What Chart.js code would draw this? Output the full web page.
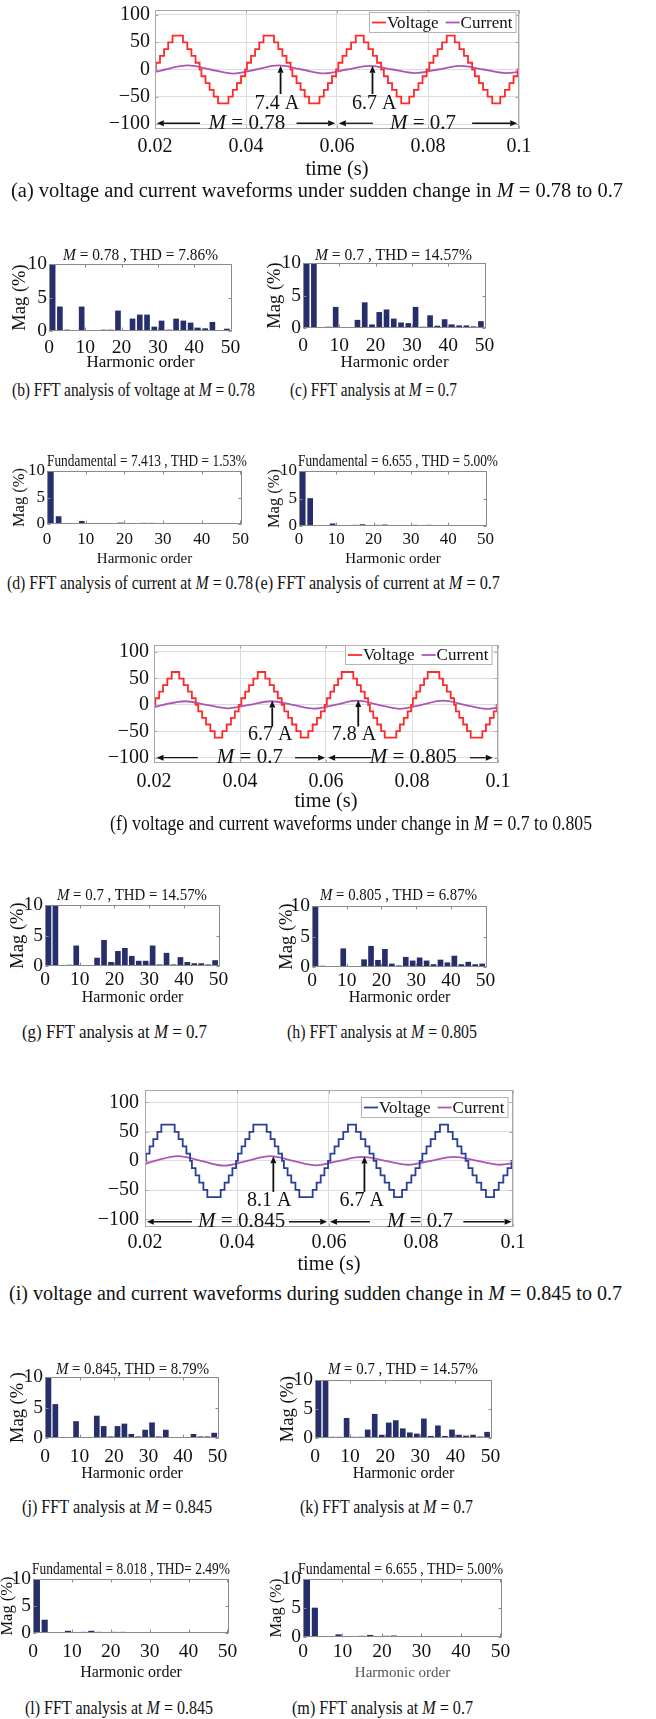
<!DOCTYPE html>
<html><head><meta charset="utf-8">
<script src="https://cdn.jsdelivr.net/npm/chart.js@4.4.1/dist/chart.umd.min.js"></script>
<style>
html,body{margin:0;padding:0;background:#fff;}
body{position:relative;width:656px;height:1719px;overflow:hidden;font-family:"Liberation Serif","Times New Roman",serif;color:#111;}
canvas{position:absolute;}
.t{position:absolute;white-space:nowrap;line-height:1;transform-origin:0 50%;}
</style></head><body>
<script>
// ================= DATA =================
const HARMONIC_ORDERS = [1,3,5,7,9,11,13,15,17,19,21,23,25,27,29,31,33,35,37,39,41,43,45,47,49];
const MAG_B = [100,3.6,0.15,0,3.6,0,0,0.15,0.15,3.0,0,1.8,2.4,2.4,0.6,1.5,0.15,1.8,1.5,1.2,0.45,0.35,1.3,0,0.3];
const MAG_C = [100,100,0,0.15,3.2,0,0,1.2,3.9,0.5,2.4,2.8,1.4,0.8,0.7,3.2,0.15,1.9,0.3,1.3,0.5,0.35,0.35,0.2,1.0];
const MAG_D = [100,1.4,0.1,0.1,0.5,0.1,0.1,0.1,0.1,0.2,0.1,0.1,0.15,0.15,0.1,0.1,0.1,0.1,0.1,0.1,0.1,0.1,0.1,0.1,0.1];
const MAG_E = [100,5.0,0.1,0.1,0.4,0.1,0.1,0.15,0.25,0.1,0.15,0.2,0.1,0.1,0.1,0.15,0.1,0.15,0.1,0.1,0.1,0.1,0.1,0.1,0.1];
const MAG_G = [100,100,0,0.15,3.3,0,0,1.3,4.2,0.6,2.4,2.9,1.6,0.8,0.8,3.3,0.2,2.1,0.2,1.4,0.6,0.4,0.4,0.2,0.9];
const MAG_H = [100,0.15,0,0,3.0,0,0,1.2,3.4,1.1,2.9,0.5,0.2,1.6,1.0,1.5,1.0,0.4,1.15,0.7,1.8,0.4,0.8,0.4,0.5];
const MAG_J = [100,5.5,0,0,2.7,0,0,3.6,1.9,0.2,1.9,2.3,0.6,0.2,1.3,2.5,0.2,1.3,0,0,0,0.6,0.2,0.2,0.8];
const MAG_K = [100,100,0.15,0.15,3.4,0.15,0.15,1.4,4.1,0.5,2.6,3.0,1.6,0.9,0.7,3.3,0.3,2.1,0.3,1.4,0.5,0.35,0.5,0.2,1.0];
const MAG_L = [100,2.4,0.1,0.1,0.35,0.1,0.15,0.35,0.15,0.1,0.15,0.15,0.1,0.1,0.1,0.12,0.1,0.1,0.1,0.1,0.1,0.1,0.1,0.1,0.1];
const MAG_M = [100,5.0,0.1,0.1,0.4,0.1,0.1,0.15,0.3,0.1,0.15,0.2,0.1,0.1,0.1,0.12,0.1,0.12,0.1,0.1,0.1,0.1,0.1,0.1,0.1];

// staircase voltage: start of each fundamental period (s), step height (V),
// quarter-wave switching instants (s after each zero crossing) for each M
const PERIOD_STARTS = [0.02, 0.04, 0.06, 0.08];
const HALF_PERIOD = 0.01;
const LEVEL_STEP = 12.4;
const SWITCH_M078  = [0.0002, 0.0011, 0.0020, 0.0029, 0.00385];
const SWITCH_M070  = [0.0003, 0.0012, 0.0021, 0.0031, 0.00412];
const SWITCH_M0805 = [0.0002, 0.0010, 0.0019, 0.0028, 0.00365];
const SWITCH_M0845 = [0.0002, 0.0010, 0.0018, 0.0027, 0.00355];

// load current: sample instants (zero crossings / peaks) and values (A)
const CURRENT_TIMES = [0.02,0.0222,0.0272,0.0322,0.0372,0.0422,0.0472,0.0522,0.0572,0.0622,0.0672,0.0722,0.0772,0.0822,0.0872,0.0922,0.0972,0.1];
const CURRENT_A = [-4.9,0,7.4,0,-7.4,0,7.4,0,-7.1,0,6.7,0,-6.7,0,6.7,0,-6.7,-4.4];
const CURRENT_F = [-4.4,0,6.7,0,-6.7,0,6.7,0,-7.1,0,7.8,0,-7.8,0,7.8,0,-7.8,-5.1];
const CURRENT_I = [-5.3,0,8.1,0,-8.1,0,8.1,0,-7.6,0,6.7,0,-6.7,0,6.7,0,-6.7,-4.4];

// annotations in data units: arrows [x0,y0 -> x1,y1], notes [x,y,text], M labels [x,y,value]
const ARROWS_A = [[0.0476,-45,0.0476,7],[0.0678,-45,0.0678,7],[0.0299,-98.5,0.0204,-98.5],[0.0511,-98.5,0.0596,-98.5],[0.0679,-98.5,0.0604,-98.5],[0.0897,-98.5,0.0996,-98.5]];
const NOTES_A = [[0.0468,-62,'7.4 A'],[0.0682,-62,'6.7 A']];
const MLABELS_A = [[0.0402,-98.5,'0.78'],[0.0789,-98.5,'0.7']];
const ARROWS_F = [[0.0475,-41,0.0475,8],[0.0675,-41,0.0675,9],[0.0302,-100,0.0206,-100],[0.0528,-100,0.0598,-100],[0.0706,-100,0.0605,-100],[0.0935,-100,0.0988,-100]];
const NOTES_F = [[0.0470,-57,'6.7 A'],[0.0665,-57,'7.8 A']];
const MLABELS_F = [[0.0423,-100,'0.7'],[0.0803,-100,'0.805']];
const ARROWS_I = [[0.0479,-53,0.0479,8],[0.0677,-53,0.0677,7.5],[0.0302,-104,0.0204,-104],[0.0513,-104,0.0596,-104],[0.0689,-104,0.0602,-104],[0.0892,-104,0.0997,-104]];
const NOTES_I = [[0.0470,-68,'8.1 A'],[0.0671,-68,'6.7 A']];
const MLABELS_I = [[0.0410,-104,'0.845'],[0.0798,-104,'0.7']];

// ================= STYLE =================
const RED = '#ff2a2a', PURPLE = '#ad55b6', BLUE = '#2b3e98', NAVY = '#272e6c';
const GRID = '#dcdcdc', BOX_W = '#a8a8a8', BOX_F = '#8a8a8a', INK = '#111';
const FONT = '"Liberation Serif","Times New Roman",serif';
Chart.defaults.font.family = FONT;
Chart.defaults.color = INK;

function buildStaircase(switchSets) {
  const pts = [{x: PERIOD_STARTS[0], y: 0}];
  switchSets.forEach((ang, p) => {
    const t0 = PERIOD_STARTS[p], n = ang.length;
    for (let k = 0; k < n; k++) pts.push({x: t0 + ang[k], y: (k + 1) * LEVEL_STEP});
    for (let k = n - 1; k >= 0; k--) pts.push({x: t0 + HALF_PERIOD - ang[k], y: k * LEVEL_STEP});
    for (let k = 0; k < n; k++) pts.push({x: t0 + HALF_PERIOD + ang[k], y: -(k + 1) * LEVEL_STEP});
    for (let k = n - 1; k >= 0; k--) pts.push({x: t0 + 2 * HALF_PERIOD - ang[k], y: -k * LEVEL_STEP});
  });
  pts.push({x: 0.1, y: 0});
  return pts;
}
const pairs = (xs, ys) => xs.map((x, i) => ({x, y: ys[i]}));

function drawArrow(ctx, x0, y0, x1, y1, lw) {
  const dx = x1 - x0, dy = y1 - y0, len = Math.hypot(dx, dy), ux = dx / len, uy = dy / len;
  const hl = 7, hw = 3;
  ctx.strokeStyle = INK; ctx.fillStyle = INK; ctx.lineWidth = lw;
  ctx.beginPath(); ctx.moveTo(x0, y0); ctx.lineTo(x1 - ux * hl, y1 - uy * hl); ctx.stroke();
  ctx.beginPath(); ctx.moveTo(x1, y1);
  ctx.lineTo(x1 - ux * hl - uy * hw, y1 - uy * hl + ux * hw);
  ctx.lineTo(x1 - ux * hl + uy * hw, y1 - uy * hl - ux * hw);
  ctx.closePath(); ctx.fill();
}
function drawParts(ctx, parts, cx, cy, size) {
  const fonts = parts.map(p => (p[1] ? 'italic ' : '') + size + 'px ' + FONT);
  const ws = parts.map((p, i) => { ctx.font = fonts[i]; return ctx.measureText(p[0]).width; });
  let x = cx - ws.reduce((a, b) => a + b, 0) / 2;
  ctx.textBaseline = 'middle'; ctx.textAlign = 'left'; ctx.fillStyle = INK;
  parts.forEach((p, i) => { ctx.font = fonts[i]; ctx.fillText(p[0], x, cy); x += ws[i]; });
}

const decor = {
  id: 'decor',
  afterDatasetsDraw(chart, args, o) {
    const ctx = chart.ctx, a = chart.chartArea, xs = chart.scales.x, ys = chart.scales.y;
    ctx.save();
    const l = Math.round(a.left) + 0.5, r = Math.round(a.right) - 0.5, t = Math.round(a.top) + 0.5, b = Math.round(a.bottom) - 0.5;
    ctx.strokeStyle = o.boxColor; ctx.lineWidth = 1;
    if (o.tick) {
      ctx.beginPath();
      xs.ticks.forEach(tk => { const p = Math.round(xs.getPixelForValue(tk.value)) + 0.5; ctx.moveTo(p, b); ctx.lineTo(p, b - o.tick); ctx.moveTo(p, t); ctx.lineTo(p, t + o.tick); });
      ys.ticks.forEach(tk => { const p = Math.round(ys.getPixelForValue(tk.value)) + 0.5; ctx.moveTo(l, p); ctx.lineTo(l + o.tick, p); ctx.moveTo(r, p); ctx.lineTo(r - o.tick, p); });
      ctx.stroke();
    }
    ctx.strokeRect(l, t, r - l, b - t);
    (o.arrows || []).forEach(([x0, y0, x1, y1]) => drawArrow(ctx, xs.getPixelForValue(x0), ys.getPixelForValue(y0), xs.getPixelForValue(x1), ys.getPixelForValue(y1), x0 === x1 ? 1.8 : 1.3));
    (o.notes || []).forEach(([x, y, s]) => drawParts(ctx, [[s, 0]], xs.getPixelForValue(x), ys.getPixelForValue(y), 20));
    (o.mlabels || []).forEach(([x, y, s]) => drawParts(ctx, [['M', 1], [' = ' + s, 0]], xs.getPixelForValue(x), ys.getPixelForValue(y), 21));
    if (o.legend) {
      const L = o.legend, items = chart.data.datasets;
      ctx.font = L.size + 'px ' + FONT;
      const tw = items.map(d => ctx.measureText(d.label).width);
      let w = L.padL + L.padR;
      items.forEach((d, i) => { w += L.sample + L.gap + tw[i] + (i < items.length - 1 ? L.between : 0); });
      const bx = Math.round(a.right - L.dx - w), by = Math.round(a.top + L.dy);
      ctx.fillStyle = '#fff'; ctx.fillRect(bx, by, w, L.h);
      ctx.strokeStyle = '#b4b4b4'; ctx.lineWidth = 1; ctx.strokeRect(bx + 0.5, by + 0.5, w - 1, L.h - 1);
      let x = bx + L.padL; const cy = by + L.h / 2;
      items.forEach((d, i) => {
        ctx.strokeStyle = d.borderColor; ctx.lineWidth = 1.8;
        ctx.beginPath(); ctx.moveTo(x, cy); ctx.lineTo(x + L.sample, cy); ctx.stroke();
        x += L.sample + L.gap;
        ctx.fillStyle = INK; ctx.textBaseline = 'middle'; ctx.textAlign = 'left';
        ctx.fillText(d.label, x, cy + 1);
        x += tw[i] + L.between;
      });
    }
    ctx.restore();
  }
};
Chart.register(decor);

function makeCanvas(left, top, w, h) {
  const c = document.createElement('canvas');
  c.width = w; c.height = h;
  c.style.left = left + 'px'; c.style.top = top + 'px';
  c.style.width = w + 'px'; c.style.height = h + 'px';
  document.body.appendChild(c);
  return c;
}
const fmtT = v => String(Math.round(v * 1000) / 1000);
const fmtV = v => (v < 0 ? '\u2212' + Math.abs(v) : String(v));

function wavePanel(g, voltage, current, voltColor, arrows, notes, mlabels) {
  const cx = Math.round(g.L - g.lw), cy = Math.round(g.T - g.pt);
  const lw = g.L - cx, pt = g.T - cy;
  const bh = Math.round(g.xty + 0.6 * g.fx - g.B);
  const W = Math.round(g.R - cx + g.pr), H = Math.round(g.B - cy + bh);
  new Chart(makeCanvas(cx, cy, W, H), {
    type: 'line',
    data: {datasets: [
      {label: 'Voltage', data: voltage, borderColor: voltColor, backgroundColor: voltColor, borderWidth: 1.8, pointRadius: 0, stepped: true, fill: false},
      {label: 'Current', data: current, borderColor: PURPLE, backgroundColor: PURPLE, borderWidth: 1.8, pointRadius: 0, cubicInterpolationMode: 'monotone', fill: false}
    ]},
    options: {
      responsive: false, animation: false, events: [],
      layout: {padding: {top: pt, right: g.pr, bottom: 0, left: 0}},
      plugins: {legend: {display: false}, tooltip: {enabled: false},
        decor: {boxColor: BOX_W, tick: 3, arrows, notes, mlabels,
          legend: {size: 17, padL: 3, padR: 4, sample: 14, gap: 1, between: 7, h: g.lh, dx: g.ldx, dy: g.ldy}}},
      scales: {
        x: {type: 'linear', min: 0.02, max: 0.1,
          ticks: {stepSize: 0.02, padding: g.xtk - g.B - 0.6 * g.ft, font: {size: g.ft}, color: INK, callback: fmtT, maxRotation: 0, autoSkip: false},
          grid: {color: GRID, drawTicks: false}, border: {display: false},
          title: {display: true, text: 'time (s)', font: {size: g.fx}, padding: 0, color: INK},
          afterFit: s => { s.height = bh; s.paddingLeft = 0; s.paddingRight = 0; }},
        y: {min: g.ymin, max: g.ymax,
          ticks: {stepSize: 50, includeBounds: false, padding: g.ytp, font: {size: g.ft}, color: INK, callback: fmtV},
          grid: {color: GRID, drawTicks: false}, border: {display: false},
          afterFit: s => { s.width = lw; s.paddingTop = 0; s.paddingBottom = 0; }}
      }
    }
  });
}

function fftPanel(g, mags, yTitle) {
  const cx = Math.round(g.yt - 0.6 * g.fy), cy = Math.round(g.T - 12);
  const lw = g.L - cx, pt = g.T - cy;
  const bh = Math.round(g.xty + 0.6 * g.fx - g.B);
  const pr = 14;
  const W = Math.round(g.R - cx + pr), H = Math.round(g.B - cy + bh);
  new Chart(makeCanvas(cx, cy, W, H), {
    type: 'bar',
    data: {datasets: [{label: 'Mag', data: pairs(HARMONIC_ORDERS, mags), backgroundColor: NAVY, borderWidth: 0, barThickness: g.bt || 5, clip: 0}]},
    options: {
      responsive: false, animation: false, events: [],
      layout: {padding: {top: pt, right: pr, bottom: 0, left: 0}},
      plugins: {legend: {display: false}, tooltip: {enabled: false}, decor: {boxColor: BOX_F, tick: 3}},
      scales: {
        x: {type: 'linear', min: 0, max: 50.4, offset: false,
          ticks: {stepSize: 10, includeBounds: false, padding: g.xtk - g.B - 0.6 * g.ft, font: {size: g.ft}, color: INK, maxRotation: 0, autoSkip: false},
          grid: {display: false, drawTicks: false, offset: false}, border: {display: false},
          title: {display: true, text: 'Harmonic order', font: {size: g.fx}, padding: 0, color: g.xc || INK},
          afterFit: s => { s.height = bh; s.paddingLeft = 0; s.paddingRight = 0; }},
        y: {min: 0, max: 10,
          ticks: {stepSize: 5, padding: 2, font: {size: g.ft}, color: INK},
          grid: {display: false, drawTicks: false}, border: {display: false},
          title: {display: true, text: yTitle || 'Mag (%)', font: {size: g.fy}, padding: 0, color: INK},
          afterFit: s => { s.width = lw; s.paddingTop = 0; s.paddingBottom = 0; }}
      }
    }
  });
}

function txt(html, o) {
  const d = document.createElement('div');
  d.className = 't'; d.innerHTML = html;
  d.style.fontSize = o.size + 'px'; d.style.color = o.color || INK;
  document.body.appendChild(d);
  const nat = d.getBoundingClientRect().width;
  const s = o.width ? o.width / nat : 1;
  const left = o.align === 'left' ? o.x : o.x - nat * s / 2;
  d.style.left = left + 'px';
  d.style.top = (o.y - o.size / 2) + 'px';
  d.style.transform = 'scaleX(' + s + ')';
}

// ================= PANELS =================
const V_A = buildStaircase([SWITCH_M078, SWITCH_M078, SWITCH_M070, SWITCH_M070]);
const V_F = buildStaircase([SWITCH_M070, SWITCH_M070, SWITCH_M0805, SWITCH_M0805]);
const V_I = buildStaircase([SWITCH_M0845, SWITCH_M0845, SWITCH_M070, SWITCH_M070]);

wavePanel({L: 155, T: 10, R: 519, B: 129, lw: 58, pt: 10, pr: 20, ymin: -109, ymax: 109, ft: 20, fx: 20.5, xtk: 147, xty: 170, ytp: 5, lh: 21, ldx: 2, ldy: 2},
  V_A, pairs(CURRENT_TIMES, CURRENT_A), RED, ARROWS_A, NOTES_A, MLABELS_A);
wavePanel({L: 154, T: 645, R: 498, B: 763, lw: 58, pt: 12, pr: 20, ymin: -110, ymax: 113, ft: 20, fx: 20.5, xtk: 782, xty: 802, ytp: 5, lh: 20, ldx: 5, ldy: 0},
  V_F, pairs(CURRENT_TIMES, CURRENT_F), RED, ARROWS_F, NOTES_F, MLABELS_F);
wavePanel({L: 145, T: 1090, R: 513, B: 1227, lw: 58, pt: 12, pr: 20, ymin: -113, ymax: 121, ft: 20, fx: 20.5, xtk: 1243, xty: 1265, ytp: 6, lh: 21, ldx: 4, ldy: 7},
  V_I, pairs(CURRENT_TIMES, CURRENT_I), BLUE, ARROWS_I, NOTES_I, MLABELS_I);

fftPanel({L: 49, T: 264, R: 232, B: 331, yt: 20, fy: 18.5, xty: 363, fx: 17, xtk: 348, ft: 19.5}, MAG_B);
fftPanel({L: 303, T: 263, R: 486, B: 328, yt: 275, fy: 18.5, xty: 363, fx: 17, xtk: 346, ft: 19.5}, MAG_C);
fftPanel({L: 47, T: 471, R: 242, B: 524, yt: 20, fy: 16.5, xty: 559, fx: 15, xtk: 540, ft: 17}, MAG_D);
fftPanel({L: 299, T: 471, R: 487, B: 526, yt: 275, fy: 16.5, xty: 559, fx: 15, xtk: 540, ft: 17}, MAG_E);
fftPanel({L: 45, T: 905, R: 220, B: 966, yt: 18, fy: 18.5, xty: 997, fx: 16, xtk: 980, ft: 19.5}, MAG_G);
fftPanel({L: 312, T: 906, R: 487, B: 967, yt: 287, fy: 18.5, xty: 997, fx: 16, xtk: 981, ft: 19.5}, MAG_H);
fftPanel({L: 45, T: 1377, R: 219, B: 1438, yt: 18, fy: 18.5, xty: 1473, fx: 16, xtk: 1457, ft: 19.5}, MAG_J, 'Mag (% )');
fftPanel({L: 315, T: 1380, R: 492, B: 1438, yt: 288, fy: 18.5, xty: 1473, fx: 16, xtk: 1457, ft: 19.5}, MAG_K);
fftPanel({L: 33, T: 1579, R: 229, B: 1633, yt: 8, fy: 16.5, xty: 1672, fx: 16, xtk: 1652, ft: 19.5, bt: 5.5}, MAG_L);
fftPanel({L: 303, T: 1579, R: 502, B: 1637, yt: 277, fy: 16.5, xty: 1673, fx: 15, xtk: 1652, ft: 19.5, bt: 5.5, xc: '#555'}, MAG_M);

// FFT titles
const IM = '<i>M</i>';
txt(IM + ' = 0.78 , THD = 7.86%', {x: 140, y: 255, size: 17.5, width: 155});
txt(IM + ' = 0.7 , THD = 14.57%', {x: 393, y: 255, size: 17.5, width: 157});
txt('Fundamental = 7.413 , THD = 1.53%', {x: 147, y: 461, size: 16.5, width: 200});
txt('Fundamental = 6.655 , THD = 5.00%', {x: 398, y: 461, size: 16.5, width: 200});
txt(IM + ' = 0.7 , THD = 14.57%', {x: 132, y: 895, size: 17.5, width: 150});
txt(IM + ' = 0.805 , THD = 6.87%', {x: 398, y: 895, size: 17.5, width: 157});
txt(IM + ' = 0.845, THD = 8.79%', {x: 132, y: 1369, size: 17.5, width: 153});
txt(IM + ' = 0.7 , THD = 14.57%', {x: 403, y: 1369, size: 17.5, width: 150});
txt('Fundamental = 8.018 , THD= 2.49%', {x: 131, y: 1568, size: 17, width: 198});
txt('Fundamental = 6.655 , THD= 5.00%', {x: 400, y: 1568, size: 17, width: 205});

// captions
txt('(a) voltage and current waveforms under sudden change in ' + IM + ' = 0.78 to 0.7', {x: 11, y: 190, size: 20, align: 'left', width: 612});
txt('(b) FFT analysis of voltage at ' + IM + ' = 0.78', {x: 12, y: 390, size: 18.5, align: 'left', width: 243});
txt('(c) FFT analysis at ' + IM + ' = 0.7', {x: 290, y: 390, size: 18.5, align: 'left', width: 167});
txt('(d) FFT analysis of current at ' + IM + ' = 0.78', {x: 7, y: 583, size: 18.5, align: 'left', width: 246});
txt('(e) FFT analysis of current at ' + IM + ' = 0.7', {x: 255, y: 583, size: 18.5, align: 'left', width: 245});
txt('(f) voltage and current waveforms under change in ' + IM + ' = 0.7 to 0.805', {x: 110, y: 823, size: 20, align: 'left', width: 482});
txt('(g) FFT analysis at ' + IM + ' = 0.7', {x: 22, y: 1032, size: 18.5, align: 'left', width: 185});
txt('(h) FFT analysis at ' + IM + ' = 0.805', {x: 287, y: 1032, size: 18.5, align: 'left', width: 190});
txt('(i) voltage and current waveforms during sudden change in ' + IM + ' = 0.845 to 0.7', {x: 9, y: 1293, size: 20, align: 'left', width: 613});
txt('(j) FFT analysis at ' + IM + ' = 0.845', {x: 22, y: 1507, size: 18.5, align: 'left', width: 190});
txt('(k) FFT analysis at ' + IM + ' = 0.7', {x: 300, y: 1507, size: 18.5, align: 'left', width: 173});
txt('(l) FFT analysis at ' + IM + ' = 0.845', {x: 25, y: 1708, size: 18.5, align: 'left', width: 188});
txt('(m) FFT analysis at ' + IM + ' = 0.7', {x: 292, y: 1708, size: 18.5, align: 'left', width: 181});
</script>
</body></html>
